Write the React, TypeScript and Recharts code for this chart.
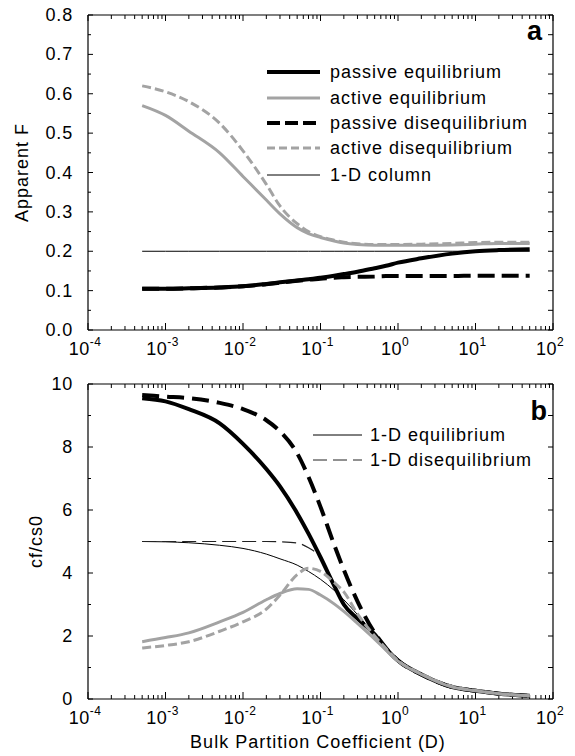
import React from 'react';
import { LineChart, Line, XAxis, YAxis, ReferenceLine } from 'recharts';

// ---------- data ----------
const D = [0.0005, 0.001, 0.002, 0.005, 0.01, 0.02, 0.03, 0.05, 0.07, 0.1, 0.15, 0.2, 0.3, 0.5, 0.7, 1, 2, 5, 10, 20, 50];

// panel a : Apparent F
const aPassiveEq = [0.105, 0.105, 0.106, 0.108, 0.111, 0.117, 0.121, 0.126, 0.129, 0.133, 0.138, 0.142, 0.148, 0.157, 0.163, 0.171, 0.182, 0.194, 0.2, 0.203, 0.205];
const aActiveEq = [0.57, 0.545, 0.505, 0.45, 0.39, 0.33, 0.295, 0.26, 0.245, 0.235, 0.226, 0.221, 0.217, 0.215, 0.215, 0.215, 0.215, 0.216, 0.218, 0.22, 0.22];
const aPassiveDiseq = [0.105, 0.105, 0.106, 0.108, 0.111, 0.116, 0.12, 0.125, 0.128, 0.13, 0.133, 0.134, 0.135, 0.136, 0.137, 0.137, 0.137, 0.137, 0.138, 0.138, 0.138];
const aActiveDiseq = [0.62, 0.605, 0.58, 0.525, 0.455, 0.37, 0.315, 0.27, 0.25, 0.237, 0.228, 0.223, 0.219, 0.217, 0.217, 0.217, 0.218, 0.22, 0.222, 0.223, 0.223];
const a1DColumn = [0.2, 0.2, 0.2, 0.2, 0.2, 0.2, 0.2, 0.2, 0.2, 0.2, 0.2, 0.2, 0.2, 0.2, 0.2, 0.2, 0.2, 0.2, 0.2, 0.2, 0.2];

// panel b : cf/cs0
const bPassiveEq = [9.55, 9.45, 9.2, 8.75, 8.1, 7.3, 6.75, 5.9, 5.25, 4.5, 3.6, 3.0, 2.55, 2.05, 1.6, 1.22, 0.78, 0.38, 0.26, 0.17, 0.1];
const bPassiveDiseq = [9.65, 9.6, 9.55, 9.4, 9.2, 8.85, 8.5, 7.8, 7.05, 6.1, 4.9, 4.1, 3.1, 2.1, 1.62, 1.22, 0.78, 0.38, 0.26, 0.17, 0.1];
const b1DEq = [5.0, 4.99, 4.96, 4.88, 4.78, 4.6, 4.45, 4.25, 4.05, 3.8, 3.45, 3.15, 2.68, 2.05, 1.6, 1.22, 0.78, 0.38, 0.26, 0.17, 0.1];
const b1DDiseq = [5.0, 5.0, 5.0, 5.0, 5.0, 5.0, 4.99, 4.95, 4.8, 4.5, 3.6, 3.0, 2.55, 2.05, 1.6, 1.22, 0.78, 0.38, 0.26, 0.17, 0.1];
const bActiveEq = [1.82, 1.95, 2.1, 2.45, 2.75, 3.15, 3.35, 3.5, 3.48, 3.3, 3.02, 2.78, 2.4, 1.9, 1.55, 1.2, 0.78, 0.38, 0.26, 0.17, 0.1];
const bActiveDiseq = [1.62, 1.7, 1.82, 2.15, 2.45, 2.85, 3.3, 3.95, 4.15, 4.05, 3.7, 3.4, 2.7, 2.0, 1.6, 1.22, 0.8, 0.4, 0.27, 0.17, 0.1];

// ticks
const decades = [1e-4, 1e-3, 1e-2, 1e-1, 1, 10, 100];
const minorMult = [2, 3, 4, 5, 6, 7, 8, 9];
const yTicksA = [0, 0.05, 0.1, 0.15, 0.2, 0.25, 0.3, 0.35, 0.4, 0.45, 0.5, 0.55, 0.6, 0.65, 0.7, 0.75, 0.8];
const yTicksB = [0, 1, 2, 3, 4, 5, 6, 7, 8, 9, 10];

const legendA = ['passive equilibrium', 'active equilibrium', 'passive disequilibrium', 'active disequilibrium', '1-D column'];
const legendB = ['1-D equilibrium', '1-D disequilibrium'];

// ---------- helpers ----------
const FONT = "'Liberation Sans', Arial, Helvetica, sans-serif";
const GRAY = '#a3a3a3';
const X_MIN = 1e-4;
const X_MAX = 100;
const PLOT_H = 315;
const DECADE_PX = 77.5;

const xTicks: number[] = [];
decades.forEach((d, i) => {
  xTicks.push(d);
  if (i < decades.length - 1) minorMult.forEach((m) => xTicks.push(d * m));
});

const isDecade = (v: number) => {
  const k = Math.log10(v);
  return Math.abs(k - Math.round(k)) < 1e-6;
};

const dataA = D.map((d, i) => ({
  D: d,
  pe: aPassiveEq[i],
  ae: aActiveEq[i],
  pd: aPassiveDiseq[i],
  ad: aActiveDiseq[i],
  c1: a1DColumn[i],
}));

const dataB = D.map((d, i) => ({
  D: d,
  pe: bPassiveEq[i],
  pd: bPassiveDiseq[i],
  e1: b1DEq[i],
  d1: b1DDiseq[i],
  ae: bActiveEq[i],
  ad: bActiveDiseq[i],
}));

// tick marks drawn as short segments through the chart's own scales (inward, on all four sides)
function frameTicks(yMax: number, yTicks: number[], yMajor: (v: number) => boolean, key: string) {
  const perPxY = yMax / PLOT_H;
  const out: React.ReactNode[] = [];
  xTicks.forEach((v, i) => {
    const major = isDecade(v);
    const lb = (major ? 7 : 4) * perPxY;
    const lt = (major ? 6 : 4) * perPxY;
    out.push(<ReferenceLine key={`${key}xb${i}`} segment={[{ x: v, y: 0 }, { x: v, y: lb }]} stroke="#000" strokeWidth={1} ifOverflow="visible" />);
    out.push(<ReferenceLine key={`${key}xt${i}`} segment={[{ x: v, y: yMax }, { x: v, y: yMax - lt }]} stroke="#000" strokeWidth={1} ifOverflow="visible" />);
  });
  yTicks.forEach((v, i) => {
    const major = yMajor(v);
    const fl = Math.pow(10, (major ? 5 : 3) / DECADE_PX);
    const fr = Math.pow(10, 5 / DECADE_PX);
    out.push(<ReferenceLine key={`${key}yl${i}`} segment={[{ x: X_MIN, y: v }, { x: X_MIN * fl, y: v }]} stroke="#000" strokeWidth={1} ifOverflow="visible" />);
    out.push(<ReferenceLine key={`${key}yr${i}`} segment={[{ x: X_MAX, y: v }, { x: X_MAX / fr, y: v }]} stroke="#000" strokeWidth={1} ifOverflow="visible" />);
  });
  return out;
}

const majorA = (v: number) => Math.abs(v * 10 - Math.round(v * 10)) < 1e-6;
const majorB = (v: number) => v % 2 === 0;

function BottomTick(props: any) {
  const { x, y, payload } = props;
  const v = payload.value;
  if (!isDecade(v)) return <g />;
  const k = Math.round(Math.log10(v));
  return (
    <text x={x - 3} y={y + 25} textAnchor="middle" fontFamily={FONT} fontSize={18} fill="#000" letterSpacing={0.5}>
      10
      <tspan dy={-9} fontSize={12}>
        {String(k)}
      </tspan>
    </text>
  );
}

function makeLeftTick(isMajor: (v: number) => boolean, fmt: (v: number) => string) {
  return function LeftTick(props: any) {
    const { x, y, payload } = props;
    const v = payload.value;
    if (!isMajor(v)) return <g />;
    return (
      <text x={x - 15} y={y + 6} textAnchor="end" fontFamily={FONT} fontSize={18} fill="#000" letterSpacing={0.8}>
        {fmt(v)}
      </text>
    );
  };
}

const LeftTickA = makeLeftTick(majorA, (v) => v.toFixed(1));
const LeftTickB = makeLeftTick(majorB, (v) => String(v));

const styleA = [
  { stroke: '#000', w: 4, dash: undefined as string | undefined },
  { stroke: GRAY, w: 3, dash: undefined as string | undefined },
  { stroke: '#000', w: 4, dash: '13 5' },
  { stroke: GRAY, w: 3, dash: '8 4' },
  { stroke: '#000', w: 1, dash: undefined as string | undefined },
];
const legendRowsA = [72, 98, 123, 148, 175];

const renderBottomLabelA = () => (
  <g>
    {legendA.map((name, i) => (
      <g key={name}>
        <line x1={267} x2={320} y1={legendRowsA[i]} y2={legendRowsA[i]} stroke={styleA[i].stroke} strokeWidth={styleA[i].w} strokeDasharray={styleA[i].dash} />
        <text x={330} y={legendRowsA[i] + 6} fontFamily={FONT} fontSize={18} fill="#000" letterSpacing={1}>
          {name}
        </text>
      </g>
    ))}
    <text x={542} y={40} textAnchor="end" fontFamily={FONT} fontSize={27} fontWeight="bold" fill="#000">
      a
    </text>
  </g>
);

const styleB = [
  { stroke: '#000', w: 1, dash: undefined as string | undefined },
  { stroke: '#222', w: 1, dash: '14 6' },
];
const legendRowsB = [65, 90];

const renderBottomLabelB = () => (
  <g>
    {legendB.map((name, i) => (
      <g key={name}>
        <line x1={313} x2={362} y1={legendRowsB[i]} y2={legendRowsB[i]} stroke={styleB[i].stroke} strokeWidth={styleB[i].w} strokeDasharray={styleB[i].dash} />
        <text x={370} y={legendRowsB[i] + 6} fontFamily={FONT} fontSize={18} fill="#000" letterSpacing={1}>
          {name}
        </text>
      </g>
    ))}
    <text x={547} y={50} textAnchor="end" fontFamily={FONT} fontSize={27} fontWeight="bold" fill="#000">
      b
    </text>
    <text x={318} y={378} textAnchor="middle" fontFamily={FONT} fontSize={18} fill="#000" letterSpacing={1}>
      Bulk Partition Coefficient (D)
    </text>
  </g>
);

const renderYLabelA = () => (
  <text x={28} y={172.5} transform="rotate(-90, 28, 172.5)" textAnchor="middle" fontFamily={FONT} fontSize={18} fill="#000" letterSpacing={1}>
    Apparent F
  </text>
);

const renderYLabelB = () => (
  <text x={42} y={171.5} transform="rotate(-90, 42, 171.5)" textAnchor="middle" fontFamily={FONT} fontSize={18} fill="#000" letterSpacing={1}>
    cf/cs0
  </text>
);

const axisLine = { stroke: '#000', strokeWidth: 1.2 };

export default function App() {
  return (
    <div style={{ position: 'absolute', left: 0, top: 0, width: 575, height: 756, background: '#fff', fontFamily: FONT }}>
      <div style={{ position: 'absolute', left: 0, top: 0 }}>
        <LineChart width={575} height={370} data={dataA} margin={{ top: 15, right: 22, bottom: 0, left: 28 }}>
          <XAxis dataKey="D" type="number" scale="log" domain={[X_MIN, X_MAX]} allowDataOverflow ticks={xTicks} interval={0} tickLine={false} tickSize={0} tickMargin={0} height={40} axisLine={axisLine} tick={BottomTick} label={renderBottomLabelA} />
          <YAxis type="number" domain={[0, 0.8]} allowDataOverflow ticks={yTicksA} interval={0} tickLine={false} tickSize={0} tickMargin={0} width={60} axisLine={axisLine} tick={LeftTickA} label={renderYLabelA} />
          <ReferenceLine y={0.8} stroke="#000" strokeWidth={1.2} />
          <ReferenceLine x={X_MAX} stroke="#000" strokeWidth={1.2} />
          {frameTicks(0.8, yTicksA, majorA, 'a')}
          <Line dataKey="c1" type="monotone" stroke="#000" strokeWidth={1} dot={false} activeDot={false} isAnimationActive={false} />
          <Line dataKey="pd" type="monotone" stroke="#000" strokeWidth={4} strokeDasharray="17 7" dot={false} activeDot={false} isAnimationActive={false} />
          <Line dataKey="pe" type="monotone" stroke="#000" strokeWidth={4} dot={false} activeDot={false} isAnimationActive={false} />
          <Line dataKey="ae" type="monotone" stroke={GRAY} strokeWidth={3} dot={false} activeDot={false} isAnimationActive={false} />
          <Line dataKey="ad" type="monotone" stroke={GRAY} strokeWidth={3} strokeDasharray="9 4" dot={false} activeDot={false} isAnimationActive={false} />
        </LineChart>
      </div>
      <div style={{ position: 'absolute', left: 0, top: 370 }}>
        <LineChart width={575} height={386} data={dataB} margin={{ top: 14, right: 22, bottom: 0, left: 28 }}>
          <XAxis dataKey="D" type="number" scale="log" domain={[X_MIN, X_MAX]} allowDataOverflow ticks={xTicks} interval={0} tickLine={false} tickSize={0} tickMargin={0} height={57} axisLine={axisLine} tick={BottomTick} label={renderBottomLabelB} />
          <YAxis type="number" domain={[0, 10]} allowDataOverflow ticks={yTicksB} interval={0} tickLine={false} tickSize={0} tickMargin={0} width={60} axisLine={axisLine} tick={LeftTickB} label={renderYLabelB} />
          <ReferenceLine y={10} stroke="#000" strokeWidth={1.2} />
          <ReferenceLine x={X_MAX} stroke="#000" strokeWidth={1.2} />
          {frameTicks(10, yTicksB, majorB, 'b')}
          <Line dataKey="e1" type="monotone" stroke="#000" strokeWidth={1} dot={false} activeDot={false} isAnimationActive={false} />
          <Line dataKey="d1" type="monotone" stroke="#222" strokeWidth={1.2} strokeDasharray="14 6" dot={false} activeDot={false} isAnimationActive={false} />
          <Line dataKey="pe" type="monotone" stroke="#000" strokeWidth={4} dot={false} activeDot={false} isAnimationActive={false} />
          <Line dataKey="pd" type="monotone" stroke="#000" strokeWidth={4} strokeDasharray="17 8" dot={false} activeDot={false} isAnimationActive={false} />
          <Line dataKey="ae" type="monotone" stroke={GRAY} strokeWidth={3} dot={false} activeDot={false} isAnimationActive={false} />
          <Line dataKey="ad" type="monotone" stroke={GRAY} strokeWidth={3} strokeDasharray="9 4" dot={false} activeDot={false} isAnimationActive={false} />
        </LineChart>
      </div>
    </div>
  );
}
